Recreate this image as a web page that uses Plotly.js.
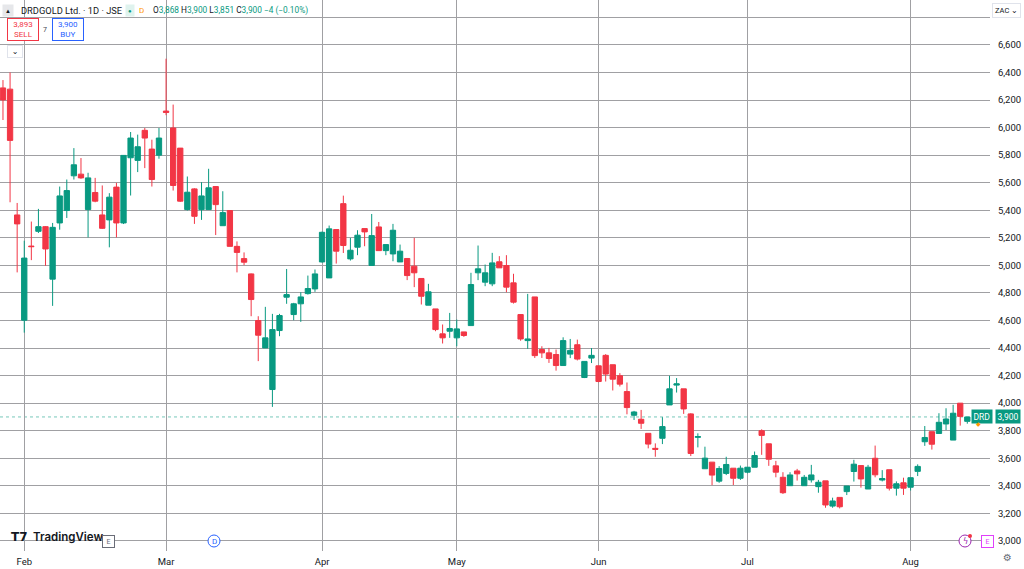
<!DOCTYPE html>
<html>
<head>
<meta charset="utf-8">
<script src="https://cdn.plot.ly/plotly-3.0.1.min.js"></script>
<style>
  html, body { margin: 0; padding: 0; background: #ffffff; }
  #chart { width: 1024px; height: 569px; }
</style>
</head>
<body>
<div id="chart"></div>
<script>
// ---- Data (DRDGOLD Ltd., 1D, JSE, ZAC) : one entry per trading session ----
const openPx  = [6288,6279,5366,4602,5140,5247,5281,4900,5308,5398,5650,5662,5405,5529,5366,5330,5568,5308,5781,5762,5980,5844,5800,
                 6120,5997,5851,5405,5555,5405,5405,5572,5288,5398,5138,5049,4938,4600,4401,4099,4527,4769,4643,4721,4795,4829,
                 5025,4909,5260,5448,5047,5132,5267,4999,5279,5107,5083,5025,5050,4994,4905,4711,4684,4503,4522,
                 4474,4517,4563,4946,4878,4866,5026,4999,4873,4643,4454,4771,4389,4365,4353,4273,4356,4424,4186,4327,
                 4271,4347,4279,4199,4084,3912,3883,3781,3672,3745,3987,4131,4104,3922,3752,3524,3572,3434,3490,3528,3455,
                 3499,3535,3800,3705,3545,3462,3401,3508,3401,3443,3394,3436,3253,3316,3358,3504,3547,3377,3600,3442,3517,3383,3422,
                 3390,3505,3720,3793,3780,3849,3732,4000,3868];
const highPx  = [6345,6400,5453,5179,5318,5410,5285,5308,5572,5623,5851,5779,5672,5635,5580,5524,5599,5800,5968,5949,5997,5912,5997,
                 6500,6167,5851,5645,5560,5604,5701,5575,5538,5400,5174,5094,4941,4631,4699,4648,4648,4974,4728,4805,4926,4970,
                 5245,5289,5262,5506,5199,5255,5268,5373,5315,5151,5301,5151,5050,5200,4905,4866,4684,4571,4655,
                 4607,4517,4946,5144,5006,5091,5067,5074,4939,4643,4793,4771,4413,4401,4389,4478,4466,4461,4303,4400,
                 4271,4356,4279,4218,4150,3944,3951,3781,3708,3898,4199,4182,4104,3927,3781,3684,3572,3543,3611,3528,3547,
                 3535,3649,3810,3705,3581,3499,3499,3523,3479,3552,3443,3436,3314,3316,3399,3589,3547,3552,3692,3514,3517,3432,3459,
                 3459,3556,3834,3793,3927,3963,3988,4000,3900];
const lowPx   = [6055,5458,4949,4512,5038,5235,4997,4706,5259,5344,5623,5628,5203,5458,5264,5131,5203,5300,5507,5677,5706,5572,5774,
                 6090,5543,5460,5398,5301,5330,5405,5220,5288,5138,4949,5002,4631,4305,4401,3973,4486,4721,4602,4590,4788,4808,
                 5020,4909,5013,5090,5035,5074,5139,4999,5107,5074,5030,5025,4893,4842,4716,4711,4522,4433,4474,
                 4413,4481,4563,4893,4849,4849,4982,4805,4723,4453,4394,4328,4328,4292,4236,4273,4327,4310,4182,4291,
                 4152,4157,4092,4121,3919,3878,3813,3672,3611,3703,3987,4077,3922,3616,3679,3524,3405,3422,3478,3406,3443,
                 3491,3535,3625,3545,3462,3341,3401,3438,3401,3424,3350,3241,3241,3236,3333,3431,3387,3377,3462,3432,3366,3329,3334,
                 3366,3471,3690,3663,3780,3805,3732,3837,3851];
const closePx = [6201,5907,5301,5053,5136,5281,5119,5276,5504,5543,5730,5635,5635,5466,5269,5495,5308,5798,5924,5861,5924,5623,5924,
                 6110,5580,5466,5531,5356,5504,5563,5441,5383,5138,5094,5023,4752,4493,4474,4534,4636,4788,4721,4771,4832,4938,
                 5240,5265,5103,5144,5110,5219,5243,5216,5107,5151,5255,5103,4926,4946,4776,4808,4534,4474,4542,
                 4539,4491,4861,4975,4946,5018,4982,4842,4733,4466,4466,4345,4365,4324,4273,4454,4383,4320,4303,4347,
                 4157,4211,4174,4138,3968,3936,3854,3703,3665,3830,4104,4140,3958,3635,3757,3601,3478,3526,3555,3455,3528,
                 3535,3620,3766,3593,3499,3350,3479,3487,3462,3479,3426,3261,3290,3248,3399,3557,3450,3535,3480,3453,3383,3415,3383,
                 3459,3541,3751,3702,3861,3885,3927,3904,3900];

// Month labels and the session index where each month begins
const monthLabels = ['Feb', 'Mar', 'Apr', 'May', 'Jun', 'Jul', 'Aug'];
const monthStart  = [3, 23, 45, 64, 84, 105, 128];

// Price axis ticks
const yTickVals = [3000,3200,3400,3600,3800,4000,4200,4400,4600,4800,5000,5200,5400,5600,5800,6000,6200,6400,6600,6800];
const yTickText = ['3,000','3,200','3,400','3,600','3,800','4,000','4,200','4,400','4,600','4,800','5,000','5,200',
                   '5,400','5,600','5,800','6,000','6,200','6,400','6,600',''];

// Header quote values
const symbolName = 'DRDGOLD Ltd. · 1D · JSE';
const sellPrice = '3,893', buyPrice = '3,900', spread = '7';
const lastChange = '−4 (−0.10%)';

// ---- Figure ----
const session = openPx.map((_, i) => i);
const UP = '#089981', DOWN = '#F23645';
const GRID = '#a0a0a3';
const fmt = v => v.toLocaleString('en-US');
const last = closePx.length - 1;

const trace = {
  type: 'candlestick',
  x: session,
  open: openPx, high: highPx, low: lowPx, close: closePx,
  increasing: { line: { color: UP, width: 1 }, fillcolor: UP },
  decreasing: { line: { color: DOWN, width: 1 }, fillcolor: DOWN },
  whiskerwidth: 0,
  hoverinfo: 'skip',
  showlegend: false
};

const PW = 990, PH = 551;
const X = p => p / PW;
const Y = p => 1 - p / PH;
const FONT = 'Roboto, "Open Sans", sans-serif';

function note(text, px, py, opts) {
  return Object.assign({
    xref: 'paper', yref: 'paper', x: X(px), y: Y(py),
    xanchor: 'left', yanchor: 'middle', showarrow: false,
    text: text, font: { family: FONT, size: 10, color: '#131722' }
  }, opts || {});
}

const ohlcText =
  'O<span style="color:' + UP + '">' + fmt(openPx[last]) + '</span> ' +
  'H<span style="color:' + UP + '">' + fmt(highPx[last]) + '</span> ' +
  'L<span style="color:' + UP + '">' + fmt(lowPx[last]) + '</span> ' +
  'C<span style="color:' + UP + '">' + fmt(closePx[last]) + '</span> ' +
  '<span style="color:' + UP + '">' + lastChange + '</span>';

const annotations = [
  note('▲', 8, 11, { xanchor: 'center', font: { family: FONT, size: 6, color: '#131722' }, bgcolor: '#e6e7ea', borderpad: 2 }),
  note(symbolName, 19, 11, { font: { family: FONT, size: 9.3, color: '#131722' } }),
  note('●', 130, 11, { xanchor: 'center', font: { family: FONT, size: 6, color: UP }, bgcolor: '#dff3ee', borderpad: 2 }),
  note('D', 141, 11, { xanchor: 'center', font: { family: FONT, size: 8, color: '#FF9800' } }),
  note(ohlcText, 151, 11, { font: { family: FONT, size: 8.3, color: '#131722' } }),
  note(sellPrice + '<br>SELL', 23, 30, { xanchor: 'center', align: 'center',
    font: { family: FONT, size: 8, color: DOWN }, bordercolor: DOWN, borderwidth: 1, borderpad: 1, bgcolor: '#ffffff', width: 28 }),
  note(spread, 45, 30, { xanchor: 'center', font: { family: FONT, size: 7, color: '#434651' } }),
  note(buyPrice + '<br>BUY', 67.5, 30, { xanchor: 'center', align: 'center',
    font: { family: FONT, size: 8, color: '#2962FF' }, bordercolor: '#2962FF', borderwidth: 1, borderpad: 1, bgcolor: '#ffffff', width: 28 }),
  note('⌄', 15, 51, { xanchor: 'center', font: { family: 'DejaVu Sans', size: 8, color: '#131722' },
    bordercolor: '#e0e3eb', borderwidth: 1, bgcolor: '#ffffff', width: 12, height: 9 }),
  note('ZAC ⌄', 1006, 11, { xanchor: 'center', font: { family: FONT, size: 7.5, color: '#131722' },
    bordercolor: '#e0e3eb', borderwidth: 1, bgcolor: '#ffffff', borderpad: 2 }),
  // last price tag
  note('DRD', 993, 0, { xref: 'paper', yref: 'y', x: X(993), y: closePx[last], xanchor: 'right',
    font: { family: FONT, size: 8.5, color: '#ffffff' }, bgcolor: UP, borderpad: 1.5 }),
  note(fmt(closePx[last]), 995, 0, { xref: 'paper', yref: 'y', x: X(995), y: closePx[last], xanchor: 'left',
    font: { family: FONT, size: 8.5, color: '#ffffff' }, bgcolor: UP, borderpad: 1.5 }),
  note('◆', 978, 423, { xanchor: 'center', font: { family: 'DejaVu Sans', size: 6, color: '#FF9800' } }),
  // bottom badges
  note('<b>T7</b>', 9, 537, { font: { family: 'DejaVu Sans', size: 12, color: '#131722' } }),
  note('TradingView', 31, 537, { font: { family: 'Inter, Roboto, sans-serif', size: 11.5, color: '#131722', weight: 600 } }),
  note('E', 108, 541, { xanchor: 'center', font: { family: FONT, size: 7, color: '#6a6d78' },
    bordercolor: '#6a6d78', borderwidth: 1, bgcolor: '#ffffff', width: 9, height: 9 }),
  note('D', 214, 541, { xanchor: 'center', font: { family: FONT, size: 8, color: '#2962FF' } }),
  note('ϟ', 965, 541, { xanchor: 'center', font: { family: 'DejaVu Sans', size: 8, color: '#9C27B0' } }),
  note('E', 987, 541, { xanchor: 'center', font: { family: FONT, size: 7, color: '#E040FB' },
    bordercolor: '#E040FB', borderwidth: 1, bgcolor: '#ffffff', width: 9, height: 9 }),
  note('⚙', 1008, 557, { xanchor: 'center', font: { family: 'DejaVu Sans', size: 10, color: '#6a6d78' } })
];

const shapes = [
  { type: 'line', xref: 'paper', yref: 'y', x0: 0, x1: 1, y0: closePx[last], y1: closePx[last],
    line: { color: 'rgba(8,153,129,0.55)', width: 1, dash: 'dot' }, layer: 'below' },
  { type: 'circle', xref: 'paper', yref: 'paper', xsizemode: 'pixel', ysizemode: 'pixel',
    xanchor: X(214), yanchor: Y(541), x0: -6, x1: 6, y0: -6, y1: 6,
    line: { color: '#2962FF', width: 1 }, fillcolor: '#ffffff' },
  { type: 'circle', xref: 'paper', yref: 'paper', xsizemode: 'pixel', ysizemode: 'pixel',
    xanchor: X(965), yanchor: Y(541), x0: -6, x1: 6, y0: -6, y1: 6,
    line: { color: '#9C27B0', width: 1 }, fillcolor: '#ffffff' },
  { type: 'circle', xref: 'paper', yref: 'paper', xsizemode: 'pixel', ysizemode: 'pixel',
    xanchor: X(970), yanchor: Y(536), x0: -2, x1: 2, y0: -2, y1: 2,
    line: { width: 0 }, fillcolor: DOWN }
];

const layout = {
  width: 1024, height: 569,
  margin: { l: 0, r: 34, t: 0, b: 18, pad: 0 },
  paper_bgcolor: '#ffffff', plot_bgcolor: '#ffffff',
  font: { family: FONT, color: '#131722' },
  showlegend: false,
  boxgap: 0.25, boxgroupgap: 0,
  xaxis: {
    type: 'linear', range: [-0.42, 139.2],
    tickvals: monthStart, ticktext: monthLabels,
    showgrid: true, gridcolor: GRID, gridwidth: 1,
    zeroline: false, showline: false,
    ticks: 'outside', ticklen: 2, tickcolor: 'rgba(0,0,0,0)',
    tickfont: { family: FONT, size: 9.5, color: '#131722' },
    rangeslider: { visible: false }, fixedrange: true
  },
  yaxis: {
    side: 'right', range: [2927, 6926],
    tickvals: yTickVals, ticktext: yTickText,
    showgrid: true, gridcolor: GRID, gridwidth: 1,
    zeroline: false, showline: false,
    ticks: 'outside', ticklen: 5, tickcolor: 'rgba(0,0,0,0)',
    tickfont: { family: FONT, size: 9.5, color: '#131722' },
    fixedrange: true
  },
  annotations: annotations,
  shapes: shapes
};

Plotly.newPlot('chart', [trace], layout, { staticPlot: true, displayModeBar: false });
</script>
</body>
</html>
